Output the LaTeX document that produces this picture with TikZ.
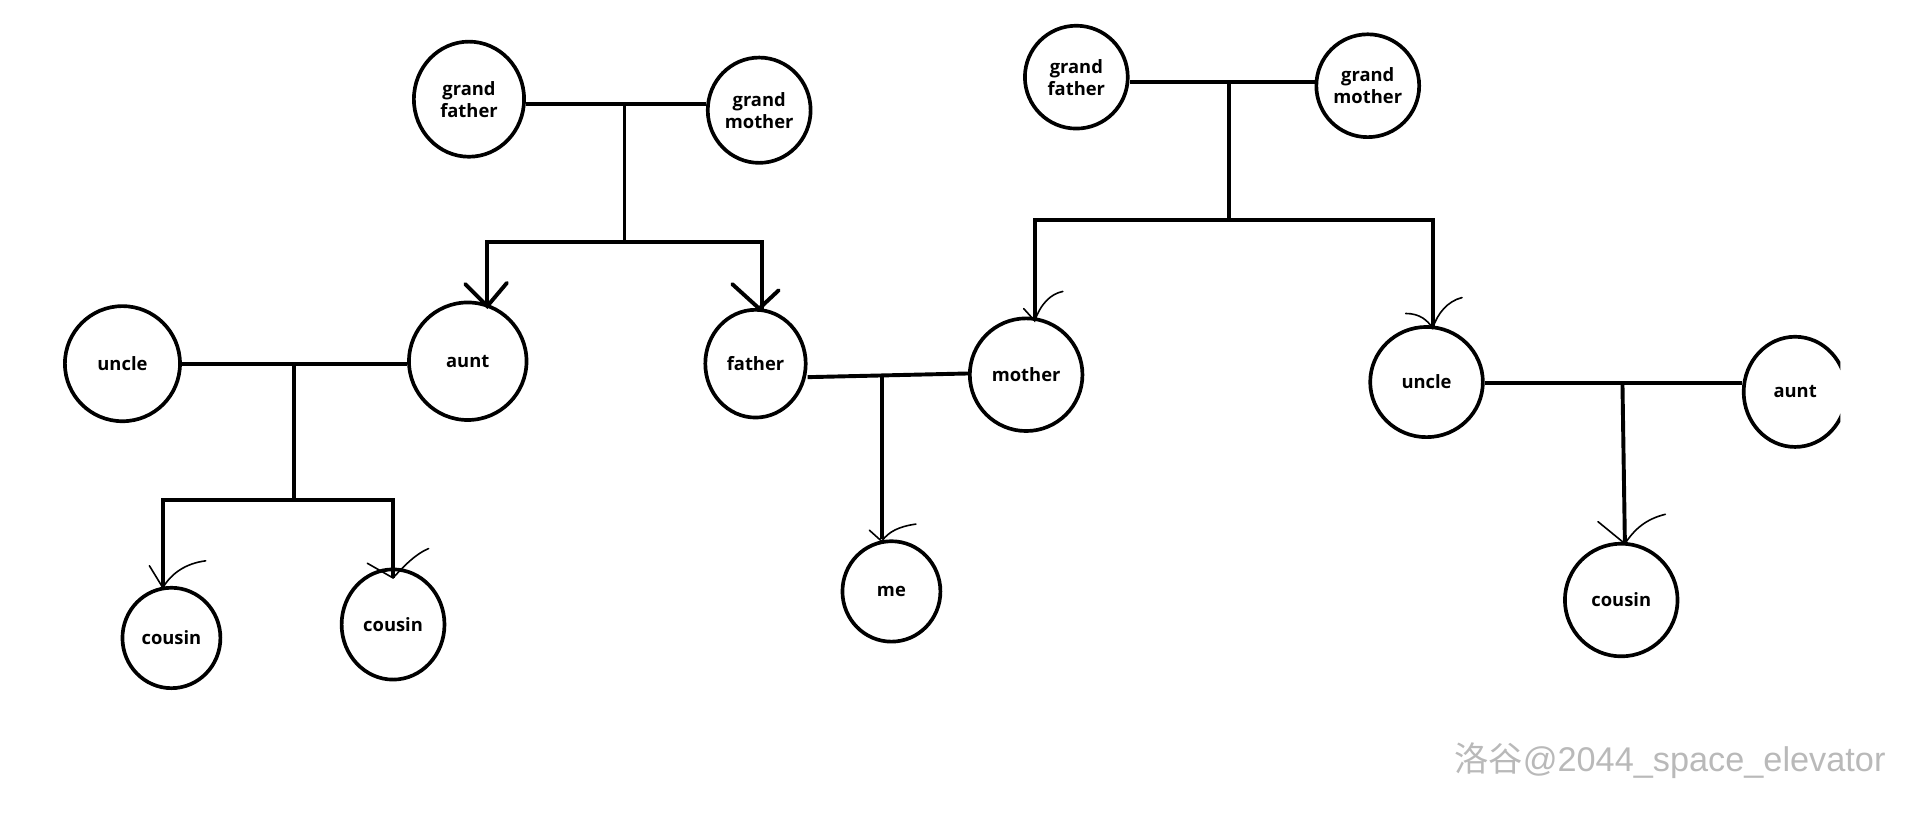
\documentclass[tikz,border=0pt]{standalone}
\usepackage{fontspec}
\setmainfont{Open Sans}
\newfontfamily\cjk{Noto Sans CJK SC}
\newfontfamily\wmf{Liberation Sans}
\usetikzlibrary{shapes.geometric}
\begin{document}
\begin{tikzpicture}[x=1pt,y=-1pt,
  p/.style={draw,ellipse,line width=3pt,inner sep=0pt,font=\bfseries\fontsize{15}{18}\selectfont,align=center},
  l/.style={line width=3.2pt},
  h/.style={line width=1.3pt,line cap=round}]
\useasboundingbox (0,0) rectangle (1568,664.6);
\begin{scope}
\clip (0,0) rectangle (1503,664.6);
\node[p,minimum width=90,minimum height=94] (gf1) at (383,81) {grand\\father};
\node[p,minimum width=84,minimum height=86] (gm1) at (620,90) {grand\\mother};
\node[p,minimum width=84,minimum height=84] (gf2) at (879,63) {grand\\father};
\node[p,minimum width=84,minimum height=84] (gm2) at (1117,70) {grand\\mother};
\node[p,minimum width=94,minimum height=94] (ul) at (100,297) {uncle};
\node[p,minimum width=96,minimum height=96] (al) at (382,295) {aunt};
\node[p,minimum width=82,minimum height=88] (fa) at (617,297) {father};
\node[p,minimum width=92,minimum height=92] (mo) at (838,306) {mother};
\node[p,minimum width=92,minimum height=90] (ur) at (1165,312) {uncle};
\node[p,minimum width=84,minimum height=90] (ar) at (1466,320) {aunt};
\node[p,minimum width=80,minimum height=82] (c1) at (140,521) {cousin};
\node[p,minimum width=84,minimum height=90] (c2) at (321,510) {cousin};
\node[p,minimum width=80,minimum height=82] (me) at (728,483) {me};
\node[p,minimum width=92,minimum height=92] (cr) at (1324,490) {cousin};
\end{scope}
% family 1
\coordinate (j1) at (510,85); \coordinate (k1) at (510,198);
\draw[l] (gf1.east |- j1) -- (gm1.west |- j1);
\draw[l] (j1) -- (k1);
\draw[l] (398,250) |- (622,198) -- (622,252);
\draw[l,line cap=round] (380,232) -- (398,250) -- (414,231);
\draw[l,line cap=round] (598,232) -- (620,252) -- (636,237);
% family 2
\coordinate (j2) at (1004,67); \coordinate (k2) at (1004,180);
\draw[l] (gf2.east |- j2) -- (gm2.west |- j2);
\draw[l] (j2) -- (k2);
\draw[l] (845,262) |- (1170,180) -- (1170,268);
\draw[h] (836,252) -- (845,262) .. controls (850,248) and (858,240) .. (868,238);
\draw[h] (1148,256) .. controls (1160,256) and (1166,262) .. (1170,268) .. controls (1174,256) and (1182,246) .. (1194,243);
% uncle/aunt left
\coordinate (j3) at (240,297); \coordinate (k3) at (240,408);
\draw[l] (ul.east |- j3) -- (al.west |- j3);
\draw[l] (j3) -- (k3);
\draw[l] (133,480) |- (321,408) -- (321,472);
\draw[h] (122,462) -- (133,480) .. controls (140,468) and (152,460) .. (168,458);
\draw[h] (300,460) -- (321,472) .. controls (330,462) and (340,452) .. (350,448);
% father mother
\coordinate (j4) at (720,308);
\draw[l] (fa.east |- j4) -- (mo.west |- 0,305);
\draw[l] (j4) -- (720,440);
\draw[h] (710,433) -- (720,442) .. controls (726,434) and (734,430) .. (748,428);
% uncle/aunt right
\coordinate (j5) at (1325,313);
\draw[l] (ur.east |- j5) -- (ar.west |- j5);
\draw[l] (j5) -- (1327,444);
\draw[h] (1305,426) -- (1327,444) .. controls (1335,432) and (1344,424) .. (1360,420);
\node[font=\wmf\fontsize{28}{30}\selectfont,text=gray!55,anchor=east,inner sep=0pt] (wm) at (1540,621) {{\cjk 洛谷}@2044\_space\_elevator};
\end{tikzpicture}
\end{document}
